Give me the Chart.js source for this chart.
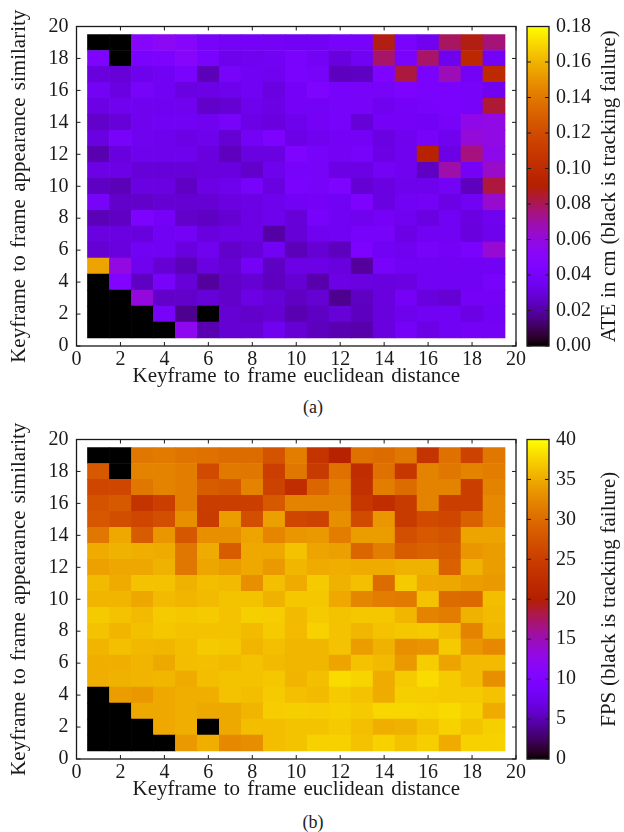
<!DOCTYPE html>
<html><head><meta charset="utf-8">
<script src="https://cdn.jsdelivr.net/npm/chart.js@4"></script>
<style>
html,body{margin:0;padding:0;background:#fff;width:624px;height:832px;overflow:hidden}
canvas{position:absolute}
.cap{position:absolute;font:18px "Liberation Serif",serif;color:#222;width:60px;text-align:center}
</style></head><body>
<canvas id="ha" style="left:0;top:0"></canvas>
<canvas id="ca" style="left:520px;top:0"></canvas>
<div class="cap" style="left:283px;top:397px">(a)</div>
<canvas id="hb" style="left:0;top:413px"></canvas>
<canvas id="cb" style="left:520px;top:413px"></canvas>
<div class="cap" style="left:283px;top:812px">(b)</div>
<script>
const xLabel = "Keyframe to frame euclidean distance";
const yLabel = "Keyframe to frame appearance similarity";
const ateBarLabel = "ATE in cm (black is tracking failure)";
const fpsBarLabel = "FPS (black is tracking failure)";
const columns = [1,2,3,4,5,6,7,8,9,10,11,12,13,14,15,16,17,18,19];
const rowsTopDown = [19,18,17,16,15,14,13,12,11,10,9,8,7,6,5,4,3,2,1];
// ATE (cm); 0 = tracking failure. One line per row, y = 19 down to y = 1
const ateRows = [
[0,0,.05,.054,.05,.039,.037,.038,.037,.036,.036,.04,.04,.088,.041,.035,.079,.088,.076],
[.044,0,.041,.043,.05,.041,.034,.035,.036,.041,.037,.03,.036,.078,.041,.078,.034,.098,.037],
[.03,.029,.034,.036,.041,.023,.039,.036,.035,.041,.039,.024,.025,.044,.083,.041,.067,.037,.099],
[.037,.031,.039,.036,.031,.032,.034,.036,.031,.038,.044,.04,.039,.039,.043,.041,.041,.039,.035],
[.032,.035,.035,.035,.035,.026,.028,.034,.032,.038,.037,.039,.039,.035,.038,.04,.041,.039,.084],
[.026,.029,.035,.036,.036,.035,.039,.032,.03,.034,.038,.04,.029,.038,.038,.036,.039,.057,.058],
[.031,.039,.035,.034,.032,.034,.028,.037,.043,.032,.035,.037,.037,.031,.035,.039,.035,.061,.058],
[.022,.03,.034,.034,.034,.03,.024,.031,.031,.044,.04,.037,.04,.032,.035,.093,.032,.075,.056],
[.032,.032,.029,.029,.029,.03,.03,.026,.034,.04,.039,.032,.032,.037,.035,.025,.069,.038,.064],
[.025,.023,.031,.031,.025,.032,.034,.04,.031,.041,.039,.044,.028,.031,.034,.034,.037,.024,.083],
[.039,.026,.026,.028,.028,.028,.031,.032,.034,.036,.038,.036,.043,.031,.036,.037,.032,.036,.063],
[.023,.025,.043,.038,.026,.025,.028,.032,.034,.029,.04,.036,.035,.038,.035,.031,.036,.031,.035],
[.031,.031,.03,.036,.037,.03,.032,.032,.02,.029,.035,.036,.04,.039,.032,.036,.036,.03,.034],
[.028,.03,.036,.036,.03,.035,.026,.029,.036,.023,.028,.024,.043,.036,.035,.039,.038,.041,.062],
[.155,.059,.035,.028,.023,.031,.028,.037,.025,.032,.032,.03,.019,.04,.036,.036,.036,.036,.036],
[0,.045,.025,.039,.029,.019,.026,.028,.024,.028,.021,.032,.031,.03,.031,.036,.036,.036,.04],
[0,0,.06,.026,.026,.029,.026,.032,.029,.025,.028,.017,.025,.03,.038,.03,.028,.038,.037],
[0,0,0,.039,.017,0,.028,.026,.028,.022,.025,.029,.024,.03,.034,.036,.036,.032,.036],
[0,0,0,0,.055,.022,.028,.028,.035,.028,.024,.022,.021,.03,.038,.032,.036,.038,.037]
];
// FPS; 0 = tracking failure. Same row order
const fpsRows = [
[0,0,31,31.3,30.8,30.5,30,30,27.5,31.5,23.5,20.5,30.5,30,31,23.5,30.5,25.5,31],
[28.2,0,32,32,31.5,26.5,31.2,31,25,31,24.5,30.5,22.5,30.5,24,32,31,32,31.5],
[26,26,31,32,31.5,28.5,28,32,25.5,22.5,29.5,31.5,23,31.5,30,32,32,25,32],
[27.5,28.2,23.5,25,31.5,24.8,25,25,28.2,32,32,32,24,22.5,24.5,32,25,25,32.5],
[28,26.8,26,27,33,24.7,34,27,34.2,26,25.5,33,26.5,33.5,24.5,26.5,26,29,32.5],
[31,34.8,28.5,33.5,28,33,33,34.5,32.2,33.5,33.8,31.5,34,34,27,28.2,27.5,34.5,34.5],
[35,35.5,35.2,35,31,35,28.5,34.8,34.8,36.5,34.5,34.2,29.5,31.5,28.5,29,28.5,33.5,34],
[34.3,34.7,34.7,35.5,31,34.6,34,34.8,33.8,35.8,35,35.3,35,35,35.5,35.5,29,35.5,34],
[36,35,36.5,36.5,35.5,36.2,36,33,36.3,35,37,35.5,36.3,30,37,34.8,34.7,34,33.8],
[35.7,35.7,34.7,36,35.7,36,36.6,36.6,35.5,36.8,36.8,34.8,32.3,31.5,31.3,36.5,30,29.8,36.2],
[37,36.5,36,37,36.8,37,36.5,37.3,37.2,36,37,36.6,36.8,36.8,35.8,32,31.5,35.5,36],
[36.5,35.7,36.4,36.8,36.5,36.5,36.6,36.1,37,36,37.5,36.5,35.8,36.5,36.8,37,36,32,35.8],
[35.7,36.3,35.9,35.8,36.2,37,36.8,35.6,36.3,35.8,35.8,36.5,34,35.5,33,33.3,37,33.5,32.5],
[35.3,35.2,35.6,34.9,36.2,36.3,36.1,36.5,36,35.8,35.8,34.5,36.5,36,33.8,37.2,34.5,36,36],
[35.2,35.5,35.6,35.8,35,36.2,36.6,36.6,36.8,35.6,36.3,38,37.6,35,37,38,37,36,33],
[0,34,33.7,34.8,35.2,35.3,36.5,36.2,37,36.3,36,37,36.5,35,37.3,37.2,37,37,36.5],
[0,0,34.9,34.8,35.2,34.9,34.9,35.6,37.2,37.3,37.2,37.4,37,37.8,37.8,37.6,37.9,37.4,35],
[0,0,0,34.8,35.2,0,34.9,36.2,36.2,36.6,36.6,37,36.3,35.3,35.5,36.6,37.5,36.6,37.3],
[0,0,0,0,33.8,35.3,32.5,32.8,36.2,36.6,37.5,37.5,36.5,37.5,36.6,37.3,35,37.5,37.5]
];
const axisTicks = [0,2,4,6,8,10,12,14,16,18,20];
const ateMax = 0.18, ateStep = 0.02;
const fpsMax = 40, fpsStep = 5;

const SERIF = '"Liberation Serif", serif';
const INK = '#1a1a1a';

function pal(g){ // gnuplot default palette, rgbformulae 7,5,15
  g = Math.max(0, Math.min(1, g));
  const r = Math.sqrt(g), gr = g*g*g, b = Math.max(0, Math.sin(2*Math.PI*g));
  return `rgb(${Math.round(r*255)},${Math.round(gr*255)},${Math.round(b*255)})`;
}

const frameTicks = {
  id:'frameTicks',
  beforeDraw(chart, args, o){
    chart.ctx.wordSpacing = (o.wordSpacing||0)+'px';
  },
  afterDatasetsDraw(chart, args, o){
    const {ctx, chartArea:a, scales} = chart;
    ctx.save();
    ctx.strokeStyle = INK; ctx.lineWidth = o.width||1.3;
    ctx.strokeRect(a.left, a.top, a.right-a.left, a.bottom-a.top);
    const L = 4;
    ctx.lineWidth = 1;
    ctx.beginPath();
    if (o.both) for (const t of scales.x.ticks) {
      const p = scales.x.getPixelForValue(t.value);
      ctx.moveTo(p,a.bottom); ctx.lineTo(p,a.bottom-L);
      ctx.moveTo(p,a.top); ctx.lineTo(p,a.top+L);
    }
    for (const t of scales.y.ticks) {
      const p = scales.y.getPixelForValue(t.value);
      ctx.moveTo(a.left,p); ctx.lineTo(a.left+L,p);
      ctx.moveTo(a.right,p); ctx.lineTo(a.right-L,p);
    }
    ctx.stroke();
    if (o.rotTitle) {
      ctx.fillStyle = INK;
      ctx.font = `${o.titleSize}px ${SERIF}`;
      ctx.textAlign='center'; ctx.textBaseline='middle';
      ctx.translate(o.titleX, (a.top+a.bottom)/2);
      ctx.rotate(-Math.PI/2);
      ctx.fillText(o.rotTitle,0,0);
    }
    ctx.restore();
  }
};

function heat(id, rows, max, height){
  const data=[], colors=[];
  rowsTopDown.forEach((r,ri)=>columns.forEach((c,ci)=>{
    data.push({x:c, y:[r-0.5, r+0.5]});
    colors.push(pal(rows[ri][ci]/max));
  }));
  const el=document.getElementById(id); el.width=540; el.height=height;
  const font={family:SERIF,size:20};
  return new Chart(el,{
    type:'bar',
    data:{datasets:[{data, backgroundColor:colors, barPercentage:1, categoryPercentage:1, borderWidth:0}]},
    plugins:[frameTicks],
    options:{
      responsive:false, animation:false,
      layout:{padding:{left:0,right:24,top:26.5,bottom:0}},
      plugins:{legend:{display:false},tooltip:{enabled:false},frameTicks:{both:true,wordSpacing:2}},
      scales:{
        x:{type:'linear',min:0,max:20,offset:false,
          afterBuildTicks(s){s.ticks=axisTicks.map(value=>({value}));},
          grid:{display:false,drawTicks:false},border:{display:false},
          ticks:{color:INK,font,padding:2,maxRotation:0,autoSkip:false},
          title:{display:true,text:xLabel,color:INK,font:{family:SERIF,size:21},padding:{top:0,bottom:3}},
          afterFit(s){s.height=height-346;s.paddingRight=0;s.paddingLeft=0;}
        },
        y:{type:'linear',min:0,max:20,
          afterBuildTicks(s){s.ticks=axisTicks.map(value=>({value}));},
          grid:{display:false,drawTicks:false},border:{display:false},
          ticks:{color:INK,font,padding:8,autoSkip:false},
          title:{display:true,text:yLabel,color:INK,font:{family:SERIF,size:21},padding:{top:7,bottom:0}},
          afterFit(s){s.width=76.5;}
        }
      }
    }
  });
}

function bar(id, max, step, label, height, fmt){
  const el=document.getElementById(id); el.width=104; el.height=height;
  const font={family:SERIF,size:20};
  return new Chart(el,{
    type:'bar',
    data:{labels:[''],datasets:[{data:[[0,max]],barPercentage:1,categoryPercentage:1,borderWidth:0,
      backgroundColor(ctx){
        const a=ctx.chart.chartArea; if(!a) return '#000';
        const gr=ctx.chart.ctx.createLinearGradient(0,a.bottom,0,a.top);
        for(let i=0;i<=64;i++) gr.addColorStop(i/64,pal(i/64));
        return gr;
      }}]},
    plugins:[frameTicks],
    options:{
      responsive:false, animation:false,
      layout:{padding:{left:7,top:26.5,bottom:height-346,right:0}},
      plugins:{legend:{display:false},tooltip:{enabled:false},
        frameTicks:{both:false,rotTitle:label,titleX:89,titleSize:21,wordSpacing:0.5}},
      scales:{
        x:{display:false},
        y:{type:'linear',position:'right',min:0,max,
          grid:{display:false,drawTicks:false},border:{display:false},
          ticks:{stepSize:step,color:INK,font,padding:7,autoSkip:false,callback:fmt},
          afterFit(s){s.width=104-29;}
        }
      }
    }
  });
}
heat('ha', ateRows, ateMax, 392);
bar('ca', ateMax, ateStep, ateBarLabel, 392, v=>v.toFixed(2));
heat('hb', fpsRows, fpsMax, 392);
bar('cb', fpsMax, fpsStep, fpsBarLabel, 392, v=>String(v));
</script></body></html>
